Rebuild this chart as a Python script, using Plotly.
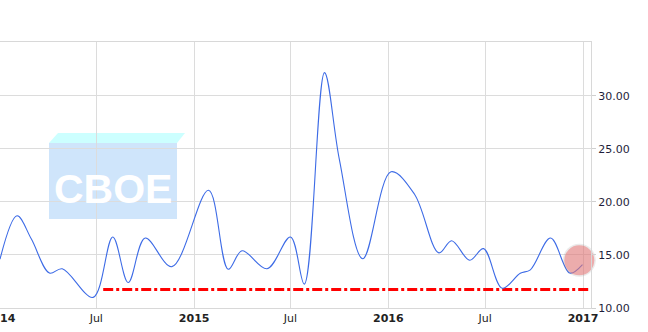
import plotly.graph_objects as go

# ---- data ----
dates = [
    "2014-01-01", "2014-02-02", "2014-03-01", "2014-04-04", "2014-04-28", "2014-06-25",
    "2014-08-01", "2014-08-30", "2014-10-01", "2014-11-20", "2015-01-28", "2015-03-06",
    "2015-04-01", "2015-05-18", "2015-07-01", "2015-07-27", "2015-09-03", "2015-10-01",
    "2015-11-14", "2016-01-06", "2016-02-19", "2016-04-05", "2016-04-29", "2016-06-02",
    "2016-06-28", "2016-08-02", "2016-09-05", "2016-09-24", "2016-11-01", "2016-12-07",
    "2016-12-31",
]
values = [
    14.6, 18.7, 16.5, 13.3, 13.7, 11.0,
    16.7, 12.4, 16.6, 13.9, 21.1, 13.65,
    15.4, 13.7, 16.7, 12.25, 32.2, 24.0,
    14.65, 22.85, 20.75, 15.2, 16.35, 14.5,
    15.6, 11.86, 13.27, 13.6, 16.6, 13.3,
    14.1,
]
support_dates = ["2014-07-14", "2017-01-20"]
support_level = [11.75, 11.75]
highlight_date = ["2016-12-25"]
highlight_value = [14.5]

tick_dates = ["2014-01-01", "2014-07-01", "2015-01-01", "2015-07-01",
              "2016-01-01", "2016-07-01", "2017-01-01"]
tick_text = ["<b>2014</b>", "Jul", "<b>2015</b>", "Jul", "<b>2016</b>", "Jul", "<b>2017</b>"]
y_ticks = [10, 15, 20, 25, 30]
y_tick_text = ["10.00", "15.00", "20.00", "25.00", "30.00"]

W, H = 648, 332
L, R, T, B = 0, 57, 42, 24
PW, PH = W - L - R, H - T - B


def px(x):
    return (x - L) / PW


def py(y):
    return 1 - (y - T) / PH


fig = go.Figure()

# support line
fig.add_trace(go.Scatter(
    x=support_dates, y=support_level, mode="lines",
    line=dict(color="#ff0000", width=3, dash="10px,3px,3px,3px"),
    hoverinfo="skip", showlegend=False,
))

# main series
fig.add_trace(go.Scatter(
    x=dates, y=values, mode="lines",
    line=dict(color="#3d6be6", width=1.1, shape="spline", smoothing=1.0),
    showlegend=False,
))

# highlight of last point (shadow + circle)
fig.add_trace(go.Scatter(
    x=highlight_date, y=highlight_value, mode="markers",
    marker=dict(size=33, color="rgba(120,120,120,0.15)", line=dict(width=0)),
    cliponaxis=False, showlegend=False, hoverinfo="skip",
))
fig.add_trace(go.Scatter(
    x=highlight_date, y=highlight_value, mode="markers",
    marker=dict(size=30, color="rgba(236,120,120,0.55)", line=dict(width=0)),
    cliponaxis=False, showlegend=False, hoverinfo="skip",
))

# CBOE watermark (decoration)
shapes = [
    dict(type="rect", xref="paper", yref="paper", layer="below",
         x0=px(49), x1=px(177), y0=py(219), y1=py(143),
         fillcolor="#cfe5fb", line=dict(width=0)),
    dict(type="path", xref="paper", yref="paper", layer="below",
         path=f"M {px(49)},{py(143)} L {px(58)},{py(133)} L {px(185)},{py(133)} L {px(177)},{py(143)} Z",
         fillcolor="#ccffff", line=dict(width=0)),
]

fig.update_layout(
    width=W, height=H,
    margin=dict(l=L, r=R, t=T, b=B, pad=0, autoexpand=False),
    paper_bgcolor="white", plot_bgcolor="white",
    shapes=shapes,
    annotations=[dict(
        xref="paper", yref="paper", x=px(113), y=py(189),
        text="<b>CBOE</b>", showarrow=False,
        font=dict(family="Liberation Sans, Arial, sans-serif",
                  size=41, color="white"),
        xanchor="center", yanchor="middle",
    )],
    xaxis=dict(
        range=["2014-01-01", "2017-01-16"],
        tickvals=tick_dates, ticktext=tick_text,
        showgrid=True, gridcolor="#dcdcdc", gridwidth=1,
        showline=True, linecolor="#d8d8d8", linewidth=1, mirror=True,
        ticks="", ticklabeloverflow="allow", automargin=False,
        tickfont=dict(family="DejaVu Sans", size=11, color="#222222"),
        zeroline=False,
    ),
    yaxis=dict(
        side="right",
        range=[10, 35.09],
        tickvals=y_ticks, ticktext=y_tick_text,
        showgrid=True, gridcolor="#dcdcdc", gridwidth=1,
        showline=True, linecolor="#d8d8d8", linewidth=1,
        ticks="outside", ticklen=4, tickcolor="#d0d0d0", automargin=False,
        tickfont=dict(family="DejaVu Sans", size=11, color="#1e1e3a"),
        zeroline=False,
    ),
)

fig.write_html("out.html")
